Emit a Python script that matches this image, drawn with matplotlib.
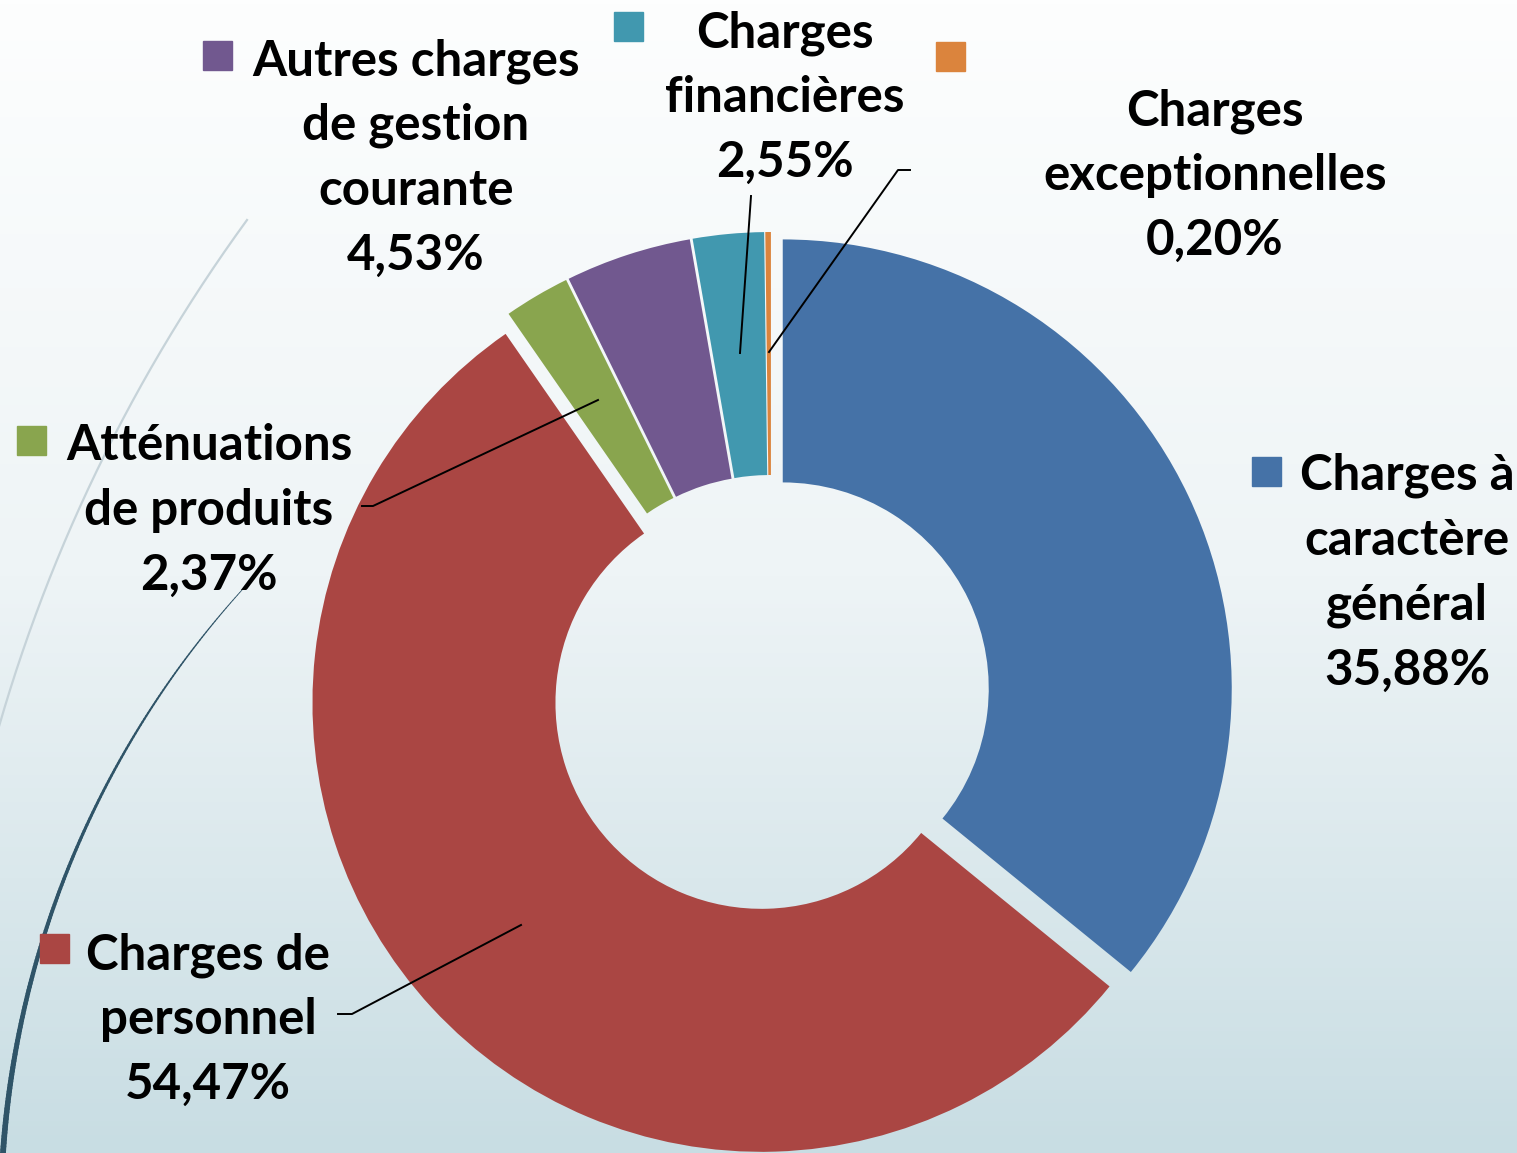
import numpy as np
import matplotlib.pyplot as plt
from matplotlib.patches import Rectangle
from matplotlib.collections import LineCollection
from matplotlib.colors import LinearSegmentedColormap

# Canvas size in pixels (axes use pixel coordinates, y flipped)
W, H = 1517, 1153

# Data
categories = ["Charges à caractère général", "Charges de personnel",
              "Atténuations de produits", "Autres charges de gestion courante",
              "Charges financières", "Charges exceptionnelles"]
label_lines = [["Charges à", "caractère", "général"],
               ["Charges de", "personnel"],
               ["Atténuations", "de produits"],
               ["Autres charges", "de gestion", "courante"],
               ["Charges", "financières"],
               ["Charges", "exceptionnelles"]]
values = [35.88, 54.47, 2.37, 4.53, 2.55, 0.20]
colors = ["#4572A7", "#AA4643", "#89A54E", "#71588F", "#4198AF", "#DB843D"]

# Label layout: text centre x, first baseline y, legend key x, key y (pixels)
lab_pos = [(1407, 490, 1252, 457), (208, 969, 40, 934), (209, 460, 17, 426),
           (416, 75, 203, 41), (785, 47, 614, 12), (1215, 125, 936, 42)]
line_step = 65

# Leader lines (pixels)
leaders = [None,
           [(521, 925), (352, 1014), (338, 1014)],
           [(598, 400), (373, 506), (362, 506)],
           None,
           [(740, 353), (751, 196)],
           [(769, 352), (898, 170), (910, 170)]]


def fy(y):
    return H - y


fig = plt.figure(figsize=(W / 100, H / 100), dpi=100)
ax = fig.add_axes([0, 0, 1, 1])

# background gradient
bg = LinearSegmentedColormap.from_list("bg", ["#fdfefe", "#eef4f6", "#c8dde3"])
grad = np.linspace(0, 1, 256).reshape(-1, 1)
ax.imshow(grad, cmap=bg, extent=[0, W, 0, H], aspect="auto", zorder=0,
          origin="upper")


# decorative arcs on the left
def arc_through(p1, p2, p3, n=200, extra=0.15):
    (x1, y1), (x2, y2), (x3, y3) = p1, p2, p3
    A = np.array([[x2 - x1, y2 - y1], [x3 - x1, y3 - y1]], float)
    b = 0.5 * np.array([x2**2 - x1**2 + y2**2 - y1**2,
                        x3**2 - x1**2 + y3**2 - y1**2])
    cx, cy = np.linalg.solve(A, b)
    r = np.hypot(x1 - cx, y1 - cy)
    a1 = np.arctan2(y1 - cy, x1 - cx)
    a3 = np.arctan2(y3 - cy, x3 - cx)
    d = (a3 - a1 + np.pi) % (2 * np.pi) - np.pi
    t = np.linspace(a1, a1 + d * (1 + extra), n)
    return cx + r * np.cos(t), cy + r * np.sin(t)


gx, gy = arc_through((247, 220), (57, 560), (0, 723))
ax.plot(gx, fy(gy), color="#c6d3d9", lw=1.6, zorder=1)

dx, dy = arc_through((242, 590), (120, 760), (3, 1153), extra=0.1)
pts = np.column_stack([dx, fy(dy)]).reshape(-1, 1, 2)
segs = np.concatenate([pts[:-1], pts[1:]], axis=1)
lc = LineCollection(segs, colors="#2f5468", linewidths=np.linspace(0.6, 4.5, len(segs)),
                    zorder=1, capstyle="round")
ax.add_collection(lc)

# doughnut (explode is in the same units as the radius here)
R = 449
ax.pie(values, colors=colors, startangle=90, counterclock=False,
       center=(771, fy(694)), radius=R, explode=[13] * len(values),
       wedgeprops=dict(width=243, linewidth=0), frame=True)

# labels
for i in range(len(values)):
    cx, by, kx, ky = lab_pos[i]
    lines = label_lines[i] + [f"{values[i]:.2f}%".replace(".", ",")]
    for k, ln in enumerate(lines):
        ax.text(cx, fy(by + k * line_step), ln, ha="center", va="baseline",
                fontsize=35.5, fontweight="bold", family="Lato", color="black",
                zorder=5)
    ax.add_patch(Rectangle((kx, fy(ky + 29)), 29, 29, color=colors[i], zorder=5))
    if leaders[i]:
        xs = [p[0] for p in leaders[i]]
        ys = [fy(p[1]) for p in leaders[i]]
        ax.plot(xs, ys, color="black", lw=1.4, zorder=4)

ax.set_xlim(0, W)
ax.set_ylim(0, H)
ax.set_aspect("auto")
ax.axis("off")

fig.savefig("out.png", dpi=100)
